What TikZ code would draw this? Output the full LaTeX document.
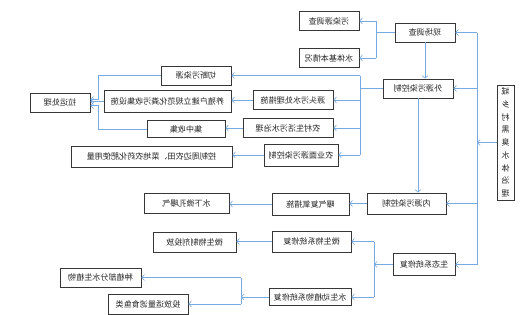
\documentclass[tikz,border=0pt]{standalone}
\usepackage{fontspec}
\newfontfamily\cjk{Noto Sans CJK SC}
\usetikzlibrary{arrows.meta}

\definecolor{linkblue}{RGB}{120,170,225}
\definecolor{boxgray}{RGB}{55,55,55}

\begin{document}
\begin{tikzpicture}[
        x=0.4mm, y=-0.4mm, xscale=-1, transform shape,
        box/.style={draw=boxgray, line width=0.8pt, fill=white, inner xsep=1pt, inner ysep=1pt,
            minimum height=7.6mm, text=black!85, font=\cjk\fontsize{9.2}{11}\selectfont},
        link/.style={draw=linkblue, line width=0.7pt},
        arrow/.style={link, -{Straight Barb[length=1.1mm, width=2.4mm]}}
    ]
        \useasboundingbox (0,0) rectangle (525,315);

        % Title
        \node (title) [box, minimum width=6.8mm, minimum height=46mm, align=center,
            font=\cjk\fontsize{9.2}{14.5}\selectfont] at (19.5,142.5)
            {城\\乡\\村\\黑\\臭\\水\\体\\治\\理};

        % Main steps
        \node (survey) [box, minimum width=24mm] at (100,32.5) {现场调查};
        \node (extctl) [box, minimum width=28mm] at (107,88.5) {外源污染控制};
        \node (intctl) [box, minimum width=31.6mm, minimum height=8.4mm] at (118.5,203.5) {内源污染控制};
        \node (ecorep) [box, minimum width=24.8mm, minimum height=8.6mm] at (101,264.5) {生态系统修复};

        % Survey
        \node (pollsrc) [box, minimum width=24mm] at (196,21) {污染源调查};
        \node (waterbody) [box, minimum width=24mm] at (196,58) {水体基本情况};

        % External sources
        \node (cutoff) [box, minimum width=28mm] at (329,75.5) {切断污染源};
        \node (sourcetr) [box, minimum width=32mm] at (232,100) {源头污水处理措施};
        \node (farm) [box, minimum width=50.8mm, minimum height=8.8mm] at (357.5,101.5) {养殖户建立规范化粪污收集设施};
        \node (haul) [box, minimum width=24mm] at (465,102.5) {拉运处理};
        \node (rural) [box, minimum width=36mm] at (237,128) {农村生活污水治理};
        \node (collect) [box, minimum width=31.2mm, minimum height=6.8mm] at (339,129) {集中收集};
        \node (agri) [box, minimum width=29.6mm, minimum height=8.8mm] at (224,155) {农业面源污染控制};
        \node (fertil) [box, minimum width=64.4mm, minimum height=8.4mm] at (373.5,156.5) {控制周边农田、菜地农药化肥使用量};

        % Internal sources
        \node (aerate) [box, minimum width=30.8mm, minimum height=8.8mm] at (214.5,204) {曝气复氧措施};
        \node (microaer) [box, minimum width=34mm, minimum height=8mm] at (338.5,203.5) {水下微孔曝气};

        % Ecological repair
        \node (microbe) [box, minimum width=31.6mm, minimum height=8.4mm] at (213.5,241.5) {微生物系统修复};
        \node (agent) [box, minimum width=33.2mm, minimum height=8mm] at (330.5,242) {微生物制剂投放};
        \node (aquatic) [box, minimum width=32.8mm, minimum height=7mm] at (215,297) {水生动植物系统修复};
        \node (plants) [box, minimum width=32.4mm] at (424.5,277.5) {种植部分水生植物};
        \node (fish) [box, minimum width=32mm, minimum height=8mm] at (377,304) {投放适量滤食鱼类};

        % Bus lines
        \coordinate (mainbus) at (48,142.5);
        \coordinate (surveybus) at (149,0);
        \coordinate (extbus) at (165,0);
        \coordinate (ecobus) at (151,0);
        \coordinate (aquabus) at (284,0);
        \coordinate (haulbus) at (427,0);

        % Title connections
        \draw [arrow] (title.east) -- (mainbus);
        \draw [link] (mainbus |- survey.west) -- (mainbus |- ecorep.west);
        \draw [arrow] (mainbus |- survey.west) -- (survey.west);
        \draw [arrow] (mainbus |- extctl.west) -- (extctl.west);
        \draw [arrow] (mainbus |- intctl.west) -- (intctl.west);
        \draw [arrow] (mainbus |- ecorep.west) -- (ecorep.west);
        \draw [arrow] (survey.south) -- (survey.south |- extctl.north);
        \draw [arrow] (extctl.south) -- (extctl.south |- intctl.north);

        % Survey connections
        \draw [link] (survey.east) -- (surveybus |- survey.east);
        \draw [link] (surveybus |- pollsrc.west) -- (surveybus |- waterbody.west);
        \draw [arrow] (surveybus |- pollsrc.west) -- (pollsrc.west);
        \draw [arrow] (surveybus |- waterbody.west) -- (waterbody.west);

        % External source connections
        \draw [link] (extctl.east) -- (extbus |- extctl.east);
        \draw [link] (extbus |- cutoff.west) -- (extbus |- agri.west);
        \draw [arrow] (extbus |- cutoff.west) -- (cutoff.west);
        \draw [arrow] (extbus |- sourcetr.west) -- (sourcetr.west);
        \draw [arrow] (extbus |- rural.west) -- (rural.west);
        \draw [arrow] (extbus |- agri.west) -- (agri.west);
        \draw [arrow] (sourcetr.east) -- (sourcetr.east -| farm.west);
        \draw [arrow] (rural.east) -- (rural.east -| collect.west);
        \draw [arrow] (agri.east) -- (agri.east -| fertil.west);
        \draw [arrow] (cutoff.east) -| ([yshift=1.2mm]haulbus |- haul.west) -- ([yshift=1.2mm]haul.west);
        \draw [arrow] (farm.east) -- (farm.east -| haul.west);
        \draw [arrow] (collect.east) -| ([yshift=-1.2mm]haulbus |- haul.west) -- ([yshift=-1.2mm]haul.west);

        % Internal source connections
        \draw [arrow] (intctl.east) -- (intctl.east -| aerate.west);
        \draw [arrow] (aerate.east) -- (aerate.east -| microaer.west);

        % Ecological repair connections
        \draw [arrow] (ecorep.east) -- (ecobus |- ecorep.east);
        \draw [link] (ecobus |- microbe.west) -- (ecobus |- aquatic.west);
        \draw [arrow] (ecobus |- microbe.west) -- (microbe.west);
        \draw [arrow] (ecobus |- aquatic.west) -- (aquatic.west);
        \draw [arrow] (microbe.east) -- (microbe.east -| agent.west);
        \draw [arrow] (aquatic.east) -- (aquabus |- aquatic.east);
        \draw [link] (aquabus |- plants.west) -- (aquabus |- fish.west);
        \draw [arrow] (aquabus |- plants.west) -- (plants.west);
        \draw [arrow] (aquabus |- fish.west) -- (fish.west);
    \end{tikzpicture}
\end{document}
